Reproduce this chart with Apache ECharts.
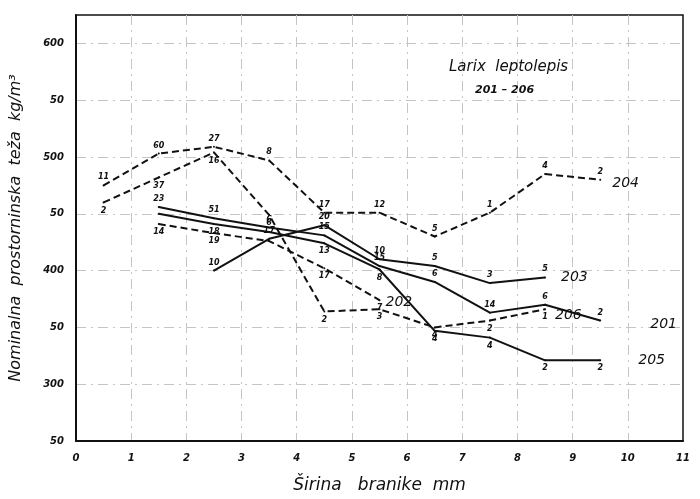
<!DOCTYPE html>
<html>
<head>
<meta charset="utf-8">
<script src="https://cdn.jsdelivr.net/npm/echarts@6/dist/echarts.min.js"></script>
<style>
  html, body { margin: 0; padding: 0; background: #fff; }
  #chart { width: 700px; height: 499px; }
</style>
</head>
<body>
<div id="chart"></div>
<script>
// tick labels
const xTickLabels = ['0', '1', '2', '3', '4', '5', '6', '7', '8', '9', '10', '11']
const yTickLabels = ['50', '300', '50', '400', '50', '500', '50', '600']

// series values (x = mm, y = kg/m3, n = number written at the point)
const x201 = [1.5, 2.5, 3.5, 4.5, 5.5, 6.5, 7.5, 8.5, 9.5]
const y201 = [456, 446, 438, 431, 404, 390, 363, 370, 356]
const n201 = ['23', '51', '6', '15', '15', '6', '14', '6', '2']

const x202 = [1.5, 2.5, 3.5, 4.5, 5.5]
const y202 = [441, 433, 426, 402, 374]
const n202 = ['14', '19', '', '17', '7']

const x203 = [2.5, 3.5, 4.5, 5.5, 6.5, 7.5, 8.5]
const y203 = [400, 428, 440, 410, 404, 389, 394]
const n203 = ['10', '17', '20', '10', '5', '3', '5']

const x204 = [0.5, 1.5, 2.5, 3.5, 4.5, 5.5, 6.5, 7.5, 8.5, 9.5]
const y204 = [475, 503, 509, 497, 451, 451, 430, 451, 485, 480]
const n204 = ['11', '60', '27', '8', '17', '12', '5', '1', '4', '2']

const x205 = [1.5, 2.5, 3.5, 4.5, 5.5, 6.5, 7.5, 8.5, 9.5]
const y205 = [450, 441, 434, 424, 401, 347, 341, 321, 321]
const n205 = ['', '18', '', '13', '8', '4', '4', '2', '2']

const x206 = [0.5, 1.5, 2.5, 3.5, 4.5, 5.5, 6.5, 7.5, 8.5]
const y206 = [460, 482, 504, 449, 364, 366, 350, 356, 366]
const n206 = ['2', '37', '16', '6', '2', '3', '4', '2', '1']

let ink = '#111'
let font = 'DejaVu Sans'

function makeSeries (name, xs, ys, ns, dashed, pos, endOffset) {
  return {
    name: name,
    type: 'line',
    data: xs.map((x, i) => [x, ys[i]]),
    symbol: 'circle',
    symbolSize: 2,
    itemStyle: { color: ink },
    lineStyle: { color: ink, width: 2, type: dashed ? [7, 4] : 'solid' },
    label: {
      show: true,
      position: pos,
      distance: 3,
      formatter: p => ns[p.dataIndex],
      fontFamily: font,
      fontStyle: 'italic',
      fontWeight: 'bold',
      fontSize: 8,
      color: ink
    },
    endLabel: {
      show: true,
      formatter: name,
      offset: endOffset,
      fontFamily: font,
      fontStyle: 'italic',
      fontSize: 14,
      color: ink
    },
    animation: false
  }
}

let gridLine = {
  show: true,
  showMinLine: false,
  showMaxLine: false,
  lineStyle: { color: '#c4c4c4', width: 1, type: [10, 5, 2, 5] }
}

let option = {
  backgroundColor: '#fff',
  grid: { left: 74, right: 17, top: 15, bottom: 56, show: true, borderColor: ink, borderWidth: 1.5 },
  title: [{
    text: 'Larix  leptolepis',
    left: 444,
    top: 55,
    textStyle: { fontFamily: font, fontStyle: 'italic', fontWeight: 'normal', fontSize: 15, color: ink }
  }, {
    text: '201 – 206',
    left: 470,
    top: 80,
    textStyle: { fontFamily: font, fontStyle: 'italic', fontWeight: 'bold', fontSize: 11, color: ink }
  }],
  xAxis: {
    type: 'value',
    min: 0,
    max: 11,
    interval: 1,
    name: 'Širina   branike  mm',
    nameLocation: 'middle',
    nameGap: 36,
    nameTextStyle: { fontFamily: font, fontStyle: 'italic', fontSize: 17, color: ink },
    axisLine: { show: true, lineStyle: { color: ink, width: 2 } },
    axisTick: { show: false },
    splitLine: gridLine,
    axisLabel: {
      formatter: (v) => xTickLabels[Math.round(v)],
      fontFamily: font,
      fontStyle: 'italic',
      fontWeight: 'bold',
      fontSize: 10,
      color: ink,
      margin: 12
    }
  },
  yAxis: {
    type: 'value',
    min: 250,
    max: 625,
    interval: 50,
    name: 'Nominalna  prostorninska  teža  kg/m³',
    nameLocation: 'middle',
    nameGap: 52,
    nameTextStyle: { fontFamily: font, fontStyle: 'italic', fontSize: 16, color: ink },
    axisLine: { show: true, lineStyle: { color: ink, width: 2 } },
    axisTick: { show: false },
    splitLine: gridLine,
    axisLabel: {
      formatter: (v) => {
        let i = Math.round((v - 250) / 50)
        return (v - 250) % 50 === 0 && yTickLabels[i] !== undefined ? yTickLabels[i] : ''
      },
      fontFamily: font,
      fontStyle: 'italic',
      fontWeight: 'bold',
      fontSize: 10,
      color: ink,
      margin: 12
    }
  },
  series: [
    makeSeries('201', x201, y201, n201, false, 'top', [42, 4]),
    makeSeries('202', x202, y202, n202, true, 'bottom', [-2, 2]),
    makeSeries('203', x203, y203, n203, false, 'top', [8, 0]),
    makeSeries('204', x204, y204, n204, true, 'top', [4, 4]),
    makeSeries('205', x205, y205, n205, false, 'bottom', [30, 0]),
    makeSeries('206', x206, y206, n206, true, 'bottom', [2, 6])
  ]
}

let dom = echarts.init(document.getElementById('chart'))
dom.setOption(option)
</script>
</body>
</html>
